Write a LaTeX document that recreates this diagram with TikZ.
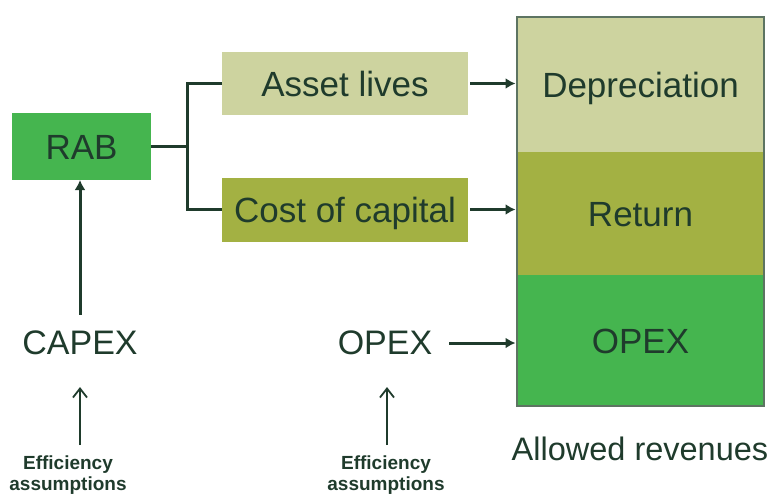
\documentclass[tikz,border=0pt]{standalone}
\usepackage{fontspec}
\setmainfont{Liberation Sans}
\usetikzlibrary{positioning}
\usetikzlibrary{arrows.meta}

\definecolor{ragreen}{HTML}{45B54F}
\definecolor{raolive}{HTML}{A3B143}
\definecolor{rapale}{HTML}{CDD39F}
\definecolor{raink}{HTML}{1F3B2C}
\definecolor{raedge}{HTML}{5D7462}

\begin{document}
\begin{tikzpicture}[x=1pt,y=-1pt]
\tikzstyle{block}=[inner sep=0pt,outer sep=0pt,text=raink,text height=25pt,text depth=0pt,font=\fontsize{35}{40}\selectfont]
\tikzstyle{word}=[inner sep=0pt,outer sep=0pt,text=raink,font=\fontsize{34}{40}\selectfont]
\tikzstyle{note}=[inner sep=0pt,outer sep=0pt,text=raink,align=center,font=\bfseries\fontsize{19}{20.5}\selectfont]
\tikzstyle{link}=[line width=3pt,draw=raink]
\tikzstyle{feed}=[link,-{Latex[length=10pt,width=11pt]}]
\tikzstyle{hint}=[line width=1.8pt,draw=raink,-{Straight Barb[length=9pt,width=14pt]}]
\useasboundingbox (0,0) rectangle (771,493);
%%%%%%%%%%%%%%%%%%%%%%%%%%%%%%%%%%%%%%%%%%%%%%%%%%%%%%%%%%%%%%%%%%%%%%%%%%%%%%%%%%%%%%%%
%% Draw Blocks
%%%%%%%%%%%%%%%%%%%%%%%%%%%%%%%%%%%%%%%%%%%%%%%%%%%%%%%%%%%%%%%%%%%%%%%%%%%%%%%%%%%%%%%%
% asset base
\node[block,fill=ragreen,minimum width=139pt,minimum height=67pt] (rab) at (81.5,146.5) {RAB};
\coordinate (split) at (187,146.5);

% capital cost building blocks
\node[block,fill=rapale,minimum width=246pt,minimum height=63pt] (asset) at (345,83.5) {Asset lives};
\node[block,fill=raolive,minimum width=246pt,minimum height=64pt] (cost) at (345,209.5) {Cost of capital};

% revenue stack
\node[block,fill=rapale,minimum width=247pt,minimum height=135pt] (dep) at (640.5,84.5) {Depreciation};
\node[block,fill=raolive,minimum width=247pt,minimum height=123pt,below=0pt of dep] (ret) {Return};
\node[block,fill=ragreen,minimum width=247pt,minimum height=131pt,below=0pt of ret] (opexrev) {OPEX};
\draw[draw=raedge,line width=1.2pt] (dep.north west) rectangle (opexrev.south east);
\node[word,font=\fontsize{32.5}{38}\selectfont,anchor=base] (revs) at (640,460) {Allowed revenues};

% expenditure inputs
\node[word] (capex) at (80,343) {CAPEX};
\node[word] (opex) at (385,343) {OPEX};
\node[note,anchor=north] (eff1) at (68,456) {Efficiency\\assumptions};
\node[note,anchor=north] (eff2) at (386,456) {Efficiency\\assumptions};
%%%%%%%%%%%%%%%%%%%%%%%%%%%%%%%%%%%%%%%%%%%%%%%%%%%%%%%%%%%%%%%%%%%%%%%%%%%%%%%%%%%%%%%%

%%%%%%%%%%%%%%%%%%%%%%%%%%%%%%%%%%%%%%%%%%%%%%%%%%%%%%%%%%%%%%%%%%%%%%%%%%%%%%%%%%%%%%%%
%%% Draw connections
%%%%%%%%%%%%%%%%%%%%%%%%%%%%%%%%%%%%%%%%%%%%%%%%%%%%%%%%%%%%%%%%%%%%%%%%%%%%%%%%%%%%%%%%
\draw[link] (rab.east) -- (split);
\draw[link] (asset.west) -| (split) |- (cost.west);
\draw[feed,shorten <=2pt,shorten >=1.5pt] (asset.east) -- (asset.east -| dep.west);
\draw[feed,shorten <=2pt,shorten >=1.5pt] (cost.east) -- (cost.east -| ret.west);
\draw[feed,shorten <=17pt,shorten >=1.5pt] (opex.east) -- (opex.east -| opexrev.west);
\draw[feed,shorten <=16pt] (capex.north) -- (capex.north |- rab.south);
\draw[hint,shorten <=11pt,shorten >=32pt] (capex.south |- eff1.north) -- (capex.south);
\draw[hint,shorten <=11pt,shorten >=32pt] ([xshift=2pt]opex.south |- eff2.north) -- ([xshift=2pt]opex.south);
%%%%%%%%%%%%%%%%%%%%%%%%%%%%%%%%%%%%%%%%%%%%%%%%%%%%%%%%%%%%%%%%%%%%%%%%%%%%%%%%%%%%%%%%

\end{tikzpicture}
\end{document}
